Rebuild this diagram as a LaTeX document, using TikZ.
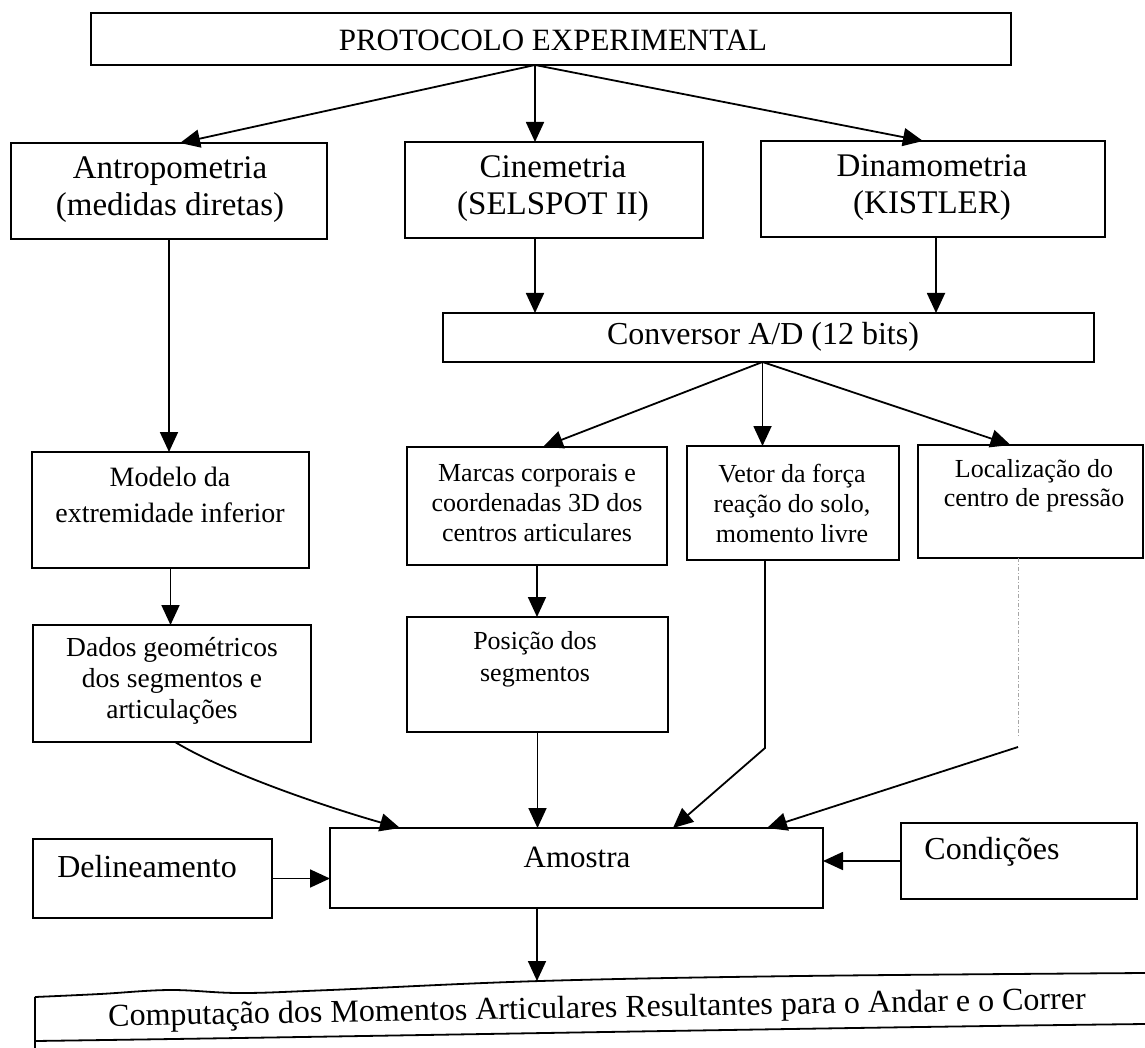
\documentclass[tikz,border=0pt]{standalone}
\usepackage{fontspec}
\setmainfont{Liberation Serif}
\usetikzlibrary{arrows.meta}
\begin{document}
\begin{tikzpicture}[x=1pt,y=-1pt,
  box/.style={draw, line width=1.8pt, rectangle, inner sep=0pt, outer sep=0pt},
  arr/.style={line width=1.8pt, -{Triangle[length=20pt,width=18pt]}},
  plain/.style={line width=1.8pt},
  dotl/.style={line width=1pt, gray!70, dash pattern=on 4pt off 2pt on 1pt off 2pt},
  txt/.style={align=center, inner sep=0pt},
  fA/.style={font=\fontsize{33}{37}\selectfont},
  fB/.style={font=\fontsize{26}{30}\selectfont},
  fD/.style={font=\fontsize{32}{36}\selectfont}]
\useasboundingbox (0,0) rectangle (1145,1048);
\fill[white] (0,0) rectangle (1145,1048);

% boxes
\node[box, minimum width=920pt, minimum height=52pt] (top) at (551,39) {};
\node[box, minimum width=316pt, minimum height=96pt] (antro) at (169,191) {};
\node[box, minimum width=298pt, minimum height=96pt] (cine) at (554,190) {};
\node[box, minimum width=344pt, minimum height=96pt] (dina) at (933,189) {};
\node[box, minimum width=651pt, minimum height=49pt] (conv) at (768.5,337.5) {};
\node[box, minimum width=277pt, minimum height=116pt] (modelo) at (170.5,510) {};
\node[box, minimum width=260pt, minimum height=118pt] (marcas) at (537,506) {};
\node[box, minimum width=212pt, minimum height=114pt] (vetor) at (793,503) {};
\node[box, minimum width=225pt, minimum height=113pt] (local) at (1030.5,501.5) {};
\node[box, minimum width=278pt, minimum height=117pt] (dados) at (172,683.5) {};
\node[box, minimum width=261pt, minimum height=115pt] (posicao) at (537.5,674.5) {};
\node[box, minimum width=493pt, minimum height=80pt] (amostra) at (576.5,868) {};
\node[box, minimum width=239pt, minimum height=79pt] (delin) at (152.5,878.5) {};
\node[box, minimum width=236pt, minimum height=76pt] (cond) at (1019,861) {};

% bottom box (warped scan)
\draw[plain] plot[smooth, tension=0.6] coordinates {(35,997) (100,994) (170,990) (240,993) (330,990) (540,981) (800,976) (1145,973)};
\draw[plain] (35,997) -- (35,1048);
\draw[plain] (35,1041) .. controls (400,1036) and (800,1028) .. (1145,1024);
\coordinate (compTop) at (537,981);

% texts
\node[txt, font=\fontsize{31}{35}\selectfont] (top-t) at (553,40) {PROTOCOLO EXPERIMENTAL};
\node[txt, fA] (antro-t) at (170,190) {Antropometria\\(medidas diretas)};
\node[txt, fA] (cine-t) at (553,189) {Cinemetria\\(SELSPOT II)};
\node[txt, fA] (dina-t) at (932,188) {Dinamometria\\(KISTLER)};
\node[txt, fD] (conv-t) at (763,337) {Conversor A/D (12 bits)};
\node[txt, font=\fontsize{28}{36}\selectfont] (modelo-t) at (170,495) {Modelo da\\extremidade inferior};
\node[txt, fB] (marcas-t) at (537,503) {Marcas corporais e\\coordenadas 3D dos\\centros articulares};
\node[txt, fB] (vetor-t) at (792,503) {Vetor da força\\reação do solo,\\momento livre};
\node[txt, font=\fontsize{26}{29}\selectfont] (local-t) at (1034,486) {Localização do\\centro de pressão};
\node[txt, font=\fontsize{27.5}{31}\selectfont] (dados-t) at (172,681) {Dados geométricos\\dos segmentos e\\articulações};
\node[txt, font=\fontsize{26}{32}\selectfont] (posicao-t) at (535,659) {Posição dos\\segmentos};
\node[txt, font=\fontsize{31}{35}\selectfont] (amostra-t) at (577,857) {Amostra};
\node[txt, fD] (delin-t) at (147,867) {Delineamento};
\node[txt, fD] (cond-t) at (992,852) {Condições};
\node[txt, fD, rotate=1] (comp-t) at (597,1010) {Computação dos Momentos Articulares Resultantes para o Andar e o Correr};

% connectors
\draw[arr] ([xshift=-16pt]top.south) -- ([xshift=11pt]antro.north);
\draw[arr] ([xshift=-16pt]top.south) -- ([xshift=-19pt]cine.north);
\draw[arr] ([xshift=-16pt]top.south) -- ([xshift=-10pt]dina.north);
\draw[arr] (antro.south) -- (antro.south |- modelo.north);
\draw[arr] ([xshift=-19pt]cine.south) -- ([xshift=-19pt]cine.south |- conv.north);
\draw[arr] ([xshift=3pt]dina.south) -- ([xshift=3pt]dina.south |- conv.north);
\draw[arr] ([xshift=-6pt]conv.south) -- ([xshift=6pt]marcas.north);
\draw[arr] ([xshift=-6pt]conv.south) -- ([xshift=-6pt]conv.south |- vetor.north);
\draw[arr] ([xshift=-6pt]conv.south) -- ([xshift=-20pt]local.north);
\draw[arr] (modelo.south) -- (modelo.south |- dados.north);
\draw[arr] (marcas.south) -- (marcas.south |- posicao.north);
\draw[arr] ([xshift=3pt]dados.south) .. controls (230,775) and (330,808) .. ([xshift=-176.5pt]amostra.north);
\draw[arr] (posicao.south) -- (posicao.south |- amostra.north);
\coordinate (vbend) at (765,748);
\draw[arr] ([xshift=-28pt]vetor.south) -- (vbend) -- ([xshift=96.5pt]amostra.north);
\coordinate (lb1) at (1018,737);
\coordinate (lb2) at (1018,747);
\draw[dotl] ([xshift=-12.5pt]local.south) -- (lb1);
\draw[arr] (lb2) -- ([xshift=190.5pt]amostra.north);
\draw[arr] (delin.east) -- (amostra.west |- delin.east);
\draw[arr] (cond.west) -- (amostra.east |- cond.west);
\draw[arr] ([xshift=-39.5pt]amostra.south) -- (compTop);
\end{tikzpicture}
\end{document}
